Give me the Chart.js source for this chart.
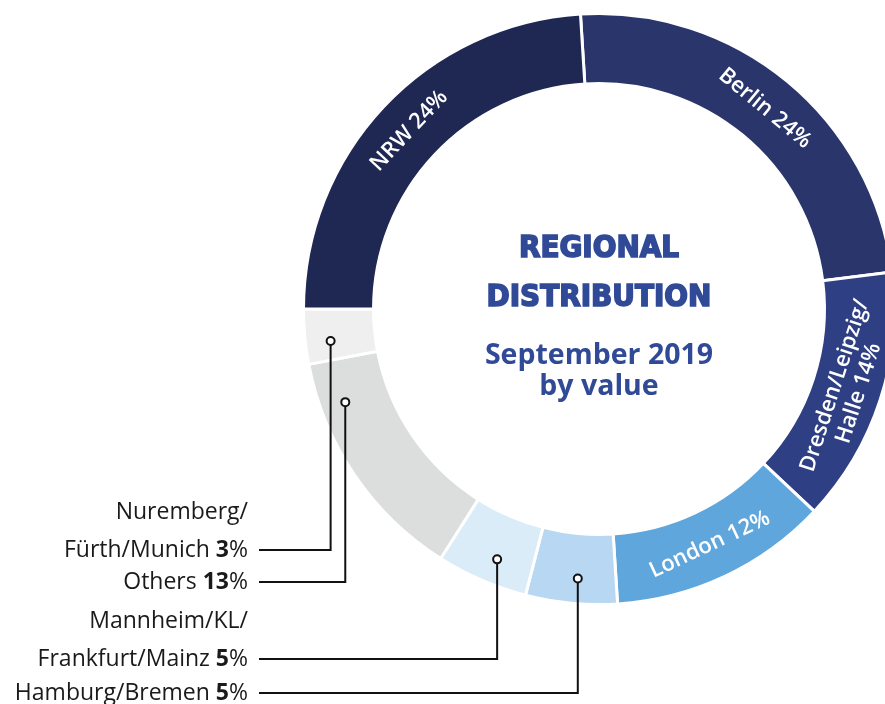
<!DOCTYPE html>
<html>
<head>
<meta charset="utf-8">
<script src="https://cdn.jsdelivr.net/npm/chart.js@4.4.1/dist/chart.umd.min.js"></script>
<style>
  html, body { margin: 0; padding: 0; background: #fff; overflow: hidden; }
  #wrap { position: relative; width: 885px; height: 704px; overflow: hidden; }
  #regionChart { position: absolute; left: 0; top: 0; }
</style>
</head>
<body>
<div id="wrap"><canvas id="regionChart" width="1198" height="704"></canvas></div>
<script>
// clockwise from the top
const regions = ["Berlin", "Dresden/Leipzig/Halle", "London", "Hamburg/Bremen",
                 "Mannheim/KL/Frankfurt/Mainz", "Others", "Nuremberg/Fürth/Munich", "NRW"];
const shares = [24, 14, 12, 5, 5, 13, 3, 24];
const labelLines = [["Berlin"], ["Dresden/Leipzig/", "Halle"], ["London"], ["Hamburg/Bremen"],
                    ["Mannheim/KL/", "Frankfurt/Mainz"], ["Others"], ["Nuremberg/", "Fürth/Munich"], ["NRW"]];
const colours = ["#29356b", "#2f3f83", "#5fa6dc", "#b7d7f2", "#dbecf9", "#dcdedd", "#efefef", "#1f2753"];
const titleLines = ["REGIONAL", "DISTRIBUTION"];
const subtitleLines = ["September 2019", "by value"];

const BLUE = "#304a97";

// slices that get their label inside the ring
const inside = [0, 1, 2, 7];
// slices with a label on the left: row = y of the leader line, frac = where the dot sits in the slice
const callouts = {
    3: { row: 693, frac: 0.45 },
    4: { row: 659, frac: 0.43 },
    5: { row: 582, frac: 0.80 },
    6: { row: 550, frac: 0.37 }
};

const labelPlugin = {
    id: "regionLabels",
    afterDatasetsDraw(chart) {
        const ctx = chart.ctx;
        const arcs = chart.getDatasetMeta(0).data;
        const cx = arcs[0].x, cy = arcs[0].y;

        ctx.save();

        // labels inside the ring
        ctx.fillStyle = "#fff";
        ctx.font = "600 22px 'Open Sans'";
        ctx.textAlign = "center";
        ctx.textBaseline = "middle";
        inside.forEach(i => {
            const a = arcs[i];
            const mid = (a.startAngle + a.endAngle) / 2;
            const r = (a.innerRadius + a.outerRadius) / 2;
            let rot = mid + Math.PI / 2;
            if (Math.cos(rot) < 0) rot += Math.PI;
            const lines = labelLines[i].slice();
            lines[lines.length - 1] += " " + shares[i] + "%";
            ctx.save();
            ctx.translate(cx + r * Math.cos(mid), cy + r * Math.sin(mid));
            ctx.rotate(rot);
            lines.forEach((t, k) => ctx.fillText(t, 0, (k - (lines.length - 1) / 2) * 25));
            ctx.restore();
        });

        // leader lines and left labels
        const textRight = 248, lineStart = 259;
        Object.keys(callouts).forEach(key => {
            const i = +key;
            const c = callouts[i];
            const a = arcs[i];
            const ang = a.startAngle + c.frac * (a.endAngle - a.startAngle);
            const r = a.innerRadius + 0.64 * (a.outerRadius - a.innerRadius);
            const dx = cx + r * Math.cos(ang), dy = cy + r * Math.sin(ang);

            ctx.strokeStyle = "#111";
            ctx.lineWidth = 2;
            ctx.beginPath();
            ctx.moveTo(lineStart, c.row);
            ctx.lineTo(dx, c.row);
            ctx.lineTo(dx, dy + 4);
            ctx.stroke();
            ctx.beginPath();
            ctx.arc(dx, dy, 4, 0, Math.PI * 2);
            ctx.fillStyle = "#fff";
            ctx.fill();
            ctx.stroke();

            ctx.fillStyle = "#1a1a1a";
            ctx.textAlign = "right";
            ctx.textBaseline = "alphabetic";
            const base = c.row + 7;
            const lines = labelLines[i];
            const regular = "400 23px 'Open Sans'";
            const bold = "700 23px 'Open Sans'";
            ctx.font = regular;
            ctx.fillText("%", textRight, base);
            let x = textRight - ctx.measureText("%").width;
            ctx.font = bold;
            ctx.fillText(String(shares[i]), x, base);
            x -= ctx.measureText(String(shares[i])).width;
            ctx.font = regular;
            ctx.fillText(lines[lines.length - 1] + " ", x, base);
            for (let k = lines.length - 2; k >= 0; k--) {
                ctx.fillText(lines[k], textRight, base - 38 * (lines.length - 1 - k));
            }
        });

        // centre title
        ctx.textAlign = "center";
        ctx.textBaseline = "alphabetic";
        ctx.fillStyle = BLUE;
        ctx.strokeStyle = BLUE;
        ctx.lineWidth = 1.6;
        ctx.font = "bold 31px 'DejaVu Sans Condensed'";
        titleLines.forEach((t, k) => {
            ctx.fillText(t, cx, cy - 52 + k * 49);
            ctx.strokeText(t, cx, cy - 52 + k * 49);
        });
        ctx.font = "700 28.5px 'Open Sans'";
        subtitleLines.forEach((t, k) => ctx.fillText(t, cx, cy + 55 + k * 31));

        ctx.restore();
    }
};

new Chart(document.getElementById("regionChart"), {
    type: "doughnut",
    data: {
        labels: regions,
        datasets: [{
            data: shares,
            backgroundColor: colours,
            borderColor: "#fff",
            borderWidth: 3
        }]
    },
    options: {
        responsive: false,
        animation: false,
        rotation: -3.6,
        radius: 295.5,
        cutout: "76.3%",
        layout: { padding: { bottom: 86 } },
        plugins: {
            legend: { display: false },
            tooltip: { enabled: false }
        }
    },
    plugins: [labelPlugin]
});
</script>
</body>
</html>
